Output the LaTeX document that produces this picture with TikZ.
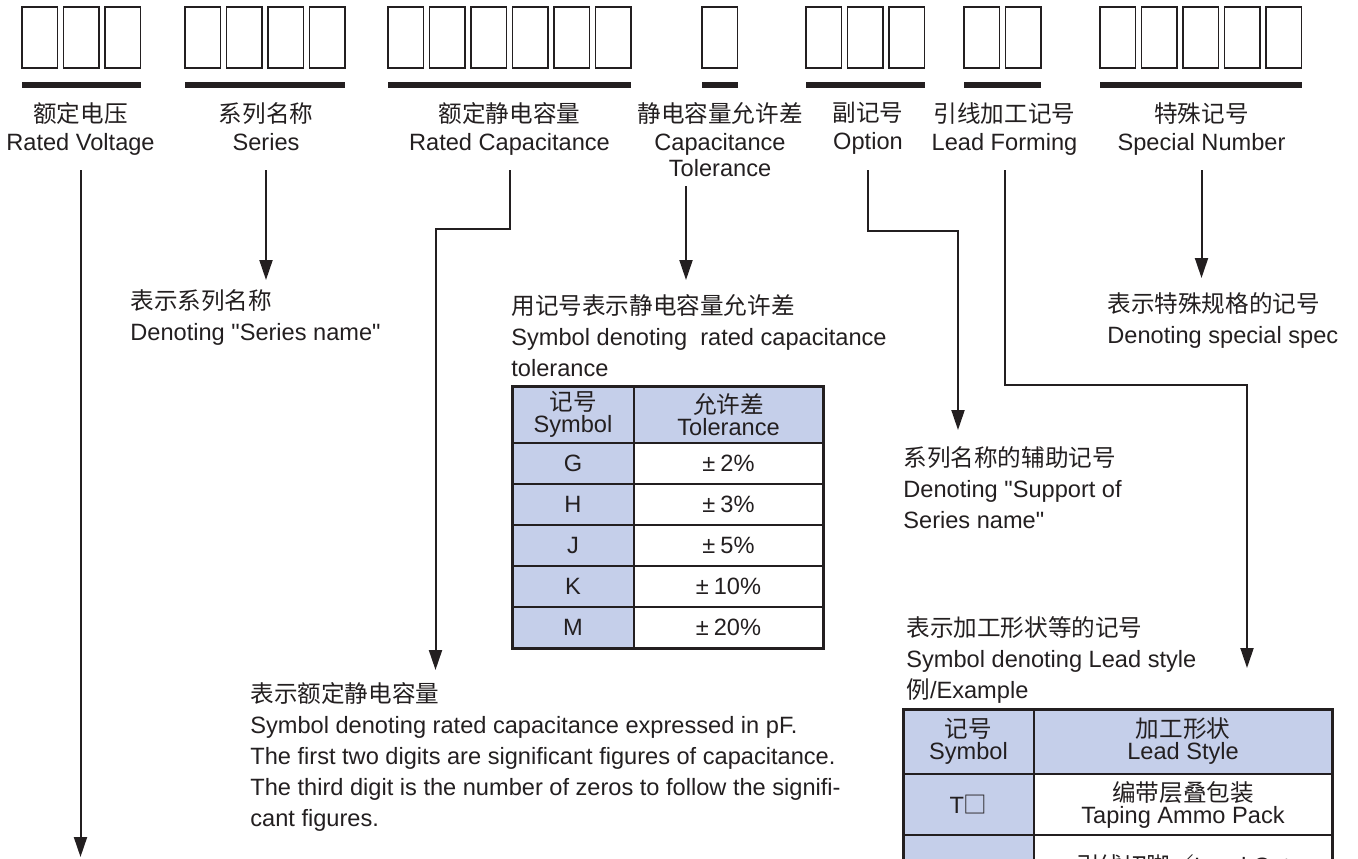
\documentclass[tikz,border=0pt]{standalone}
\usepackage{fontspec}
\setmainfont{Liberation Sans}
\newfontfamily\cjk{Noto Sans CJK SC}
\newfontfamily\straight{Liberation Sans}
\newcommand{\dq}{{\straight"}}
\usetikzlibrary{arrows.meta,positioning}

\definecolor{ink}{RGB}{35,31,32}
\definecolor{tabblue}{RGB}{197,207,234}

\tikzset{
  digitbox/.style={draw=ink,line width=0.85pt},
  partlabel/.style={align=center,inner sep=0pt,anchor=north,font=\fontsize{11.8}{14}\selectfont},
  textblock/.style={align=left,inner sep=0pt,anchor=north west,font=\fontsize{11.8}{15.5}\selectfont},
  tcell/.style={draw=ink,line width=1pt,outer sep=0pt,inner sep=0pt,align=center,font=\fontsize{11.8}{11}\selectfont},
  linkarrow/.style={draw=ink,line width=1pt,-{Triangle[length=10pt,width=6.5pt]}},
}

\begin{document}
\begin{tikzpicture}[x=0.5pt,y=-0.5pt,color=ink]
\useasboundingbox (0,0) rectangle (1358,858);
\clip (0,0) rectangle (1358,858);

% code boxes and bars
\foreach \gx/\gn in {22/3,185/4,388/6,702/1,806/3,964/2,1100/5} {
  \foreach \k in {1,...,\gn}
    \draw[digitbox] ({\gx+(\k-1)*41.5},7) rectangle ++(35.5,61);
  \fill ({\gx},82) rectangle ++({\gn*41.5-6},5.5);
}

\node[partlabel] (lvolt) at (80.5,102) {{\cjk 额定电压}\\Rated Voltage};
\node[partlabel] (lser) at (266,102) {{\cjk 系列名称}\\Series};
\node[partlabel] (lcap) at (509.5,102) {{\cjk 额定静电容量}\\Rated Capacitance};
\node[partlabel] (ltol) at (720,102) {{\cjk 静电容量允许差}\\Capacitance\\[-1pt]Tolerance};
\node[partlabel] (lopt) at (868,102) {{\cjk 副记号}\\Option};
\node[partlabel] (lform) at (1004.5,102) {{\cjk 引线加工记号}\\Lead Forming};
\node[partlabel] (lspec) at (1201.5,102) {{\cjk 特殊记号}\\Special Number};

% explanations
\node[textblock] (tser) at (130,289) {{\cjk 表示系列名称}\\Denoting \dq Series name\dq};
\node[textblock] (ttol) at (511,294) {{\cjk 用记号表示静电容量允许差}\\Symbol denoting\ \ rated capacitance\\tolerance};
\node[textblock] (tspec) at (1107,292) {{\cjk 表示特殊规格的记号}\\Denoting special spec};
\node[textblock] (topt) at (903,446) {{\cjk 系列名称的辅助记号}\\Denoting \dq Support of\\Series name\dq};
\node[textblock] (tform) at (906,616) {{\cjk 表示加工形状等的记号}\\Symbol denoting Lead style\\{\cjk 例}/Example};
\node[textblock] (tcap) at (250,682) {{\cjk 表示额定静电容量}\\Symbol denoting rated capacitance expressed in pF.\\The first two digits are significant figures of capacitance.\\The third digit is the number of zeros to follow the signifi-\\cant figures.};

% tolerance table
\node[tcell,fill=tabblue,minimum width=61pt,minimum height=28.5pt] (th1) at (573,414.5) {{\cjk 记号}\\Symbol};
\node[tcell,fill=tabblue,minimum width=94.5pt,minimum height=28.5pt] (th2) at (728.5,414.5) {{\cjk 允许差}\\Tolerance};
\foreach \s/\t/\dy [count=\i] in {G/2/0,H/3/0,J/5/0,K/10/1,M/20/2.5} {
  \node[tcell,fill=tabblue,minimum width=61pt,minimum height=20.5pt] (ts\i) at (573,{422.5+41*\i}) {\s};
  \node[tcell,fill=white,minimum width=94.5pt,minimum height=20.5pt] (tv\i) at (728.5,{422.5+41*\i}) {\raisebox{-\dy pt}{±\kern2.5pt\t\%}};
}
\draw[line width=1.5pt] (th1.north west) rectangle (tv5.south east);

% lead style table
\node[tcell,fill=tabblue,minimum width=65.5pt,minimum height=32.5pt] (lh1) at (968.5,741.5) {{\cjk 记号}\\Symbol};
\node[tcell,fill=tabblue,minimum width=149pt,minimum height=32.5pt] (lh2) at (1183,741.5) {{\cjk 加工形状}\\Lead Style};
\node[tcell,fill=tabblue,minimum width=65.5pt,minimum height=30.5pt] (lr1) at (968.5,804.5) {T{\cjk □}};
\node[tcell,fill=white,minimum width=149pt,minimum height=30.5pt] (lv1) at (1183,804.5) {{\cjk 编带层叠包装}\\Taping Ammo Pack};
\node[tcell,fill=tabblue,minimum width=65.5pt,minimum height=30.5pt] (lr2) at (968.5,865.5) {};
\node[tcell,fill=white,minimum width=149pt,minimum height=30.5pt] (lv2) at (1183,865.5) {{\cjk 引线切脚／}Lead Cut};
\draw[line width=1.5pt] (lh1.north west) rectangle (lv2.south east);

% connectors
\coordinate (ltop) at (0,170);
\coordinate (vend) at (0,857);
\coordinate (tolx) at (686,186);
\coordinate (capbend) at (435.5,229);
\coordinate (optbend) at (958,231);
\coordinate (leadbend) at (1247,385);

\draw[linkarrow] (lvolt |- ltop) -- (lvolt |- vend);
\draw[linkarrow,shorten >=4.5pt] (lser |- ltop) -- (lser |- tser.north);
\draw[linkarrow,shorten >=6pt] (lcap |- ltop) |- (capbend) -- (capbend |- tcap.north);
\draw[linkarrow,shorten >=7pt] (tolx) -- (tolx |- ttol.north);
\draw[linkarrow,shorten >=8pt] (lopt |- ltop) |- (optbend) -- (optbend |- topt.north);
\draw[linkarrow,shorten >=20.5pt] (lform |- ltop) |- (leadbend) -- (leadbend |- lh2.north);
\draw[linkarrow,shorten >=7pt] (lspec |- ltop) -- (lspec |- tspec.north);

\end{tikzpicture}
\end{document}
